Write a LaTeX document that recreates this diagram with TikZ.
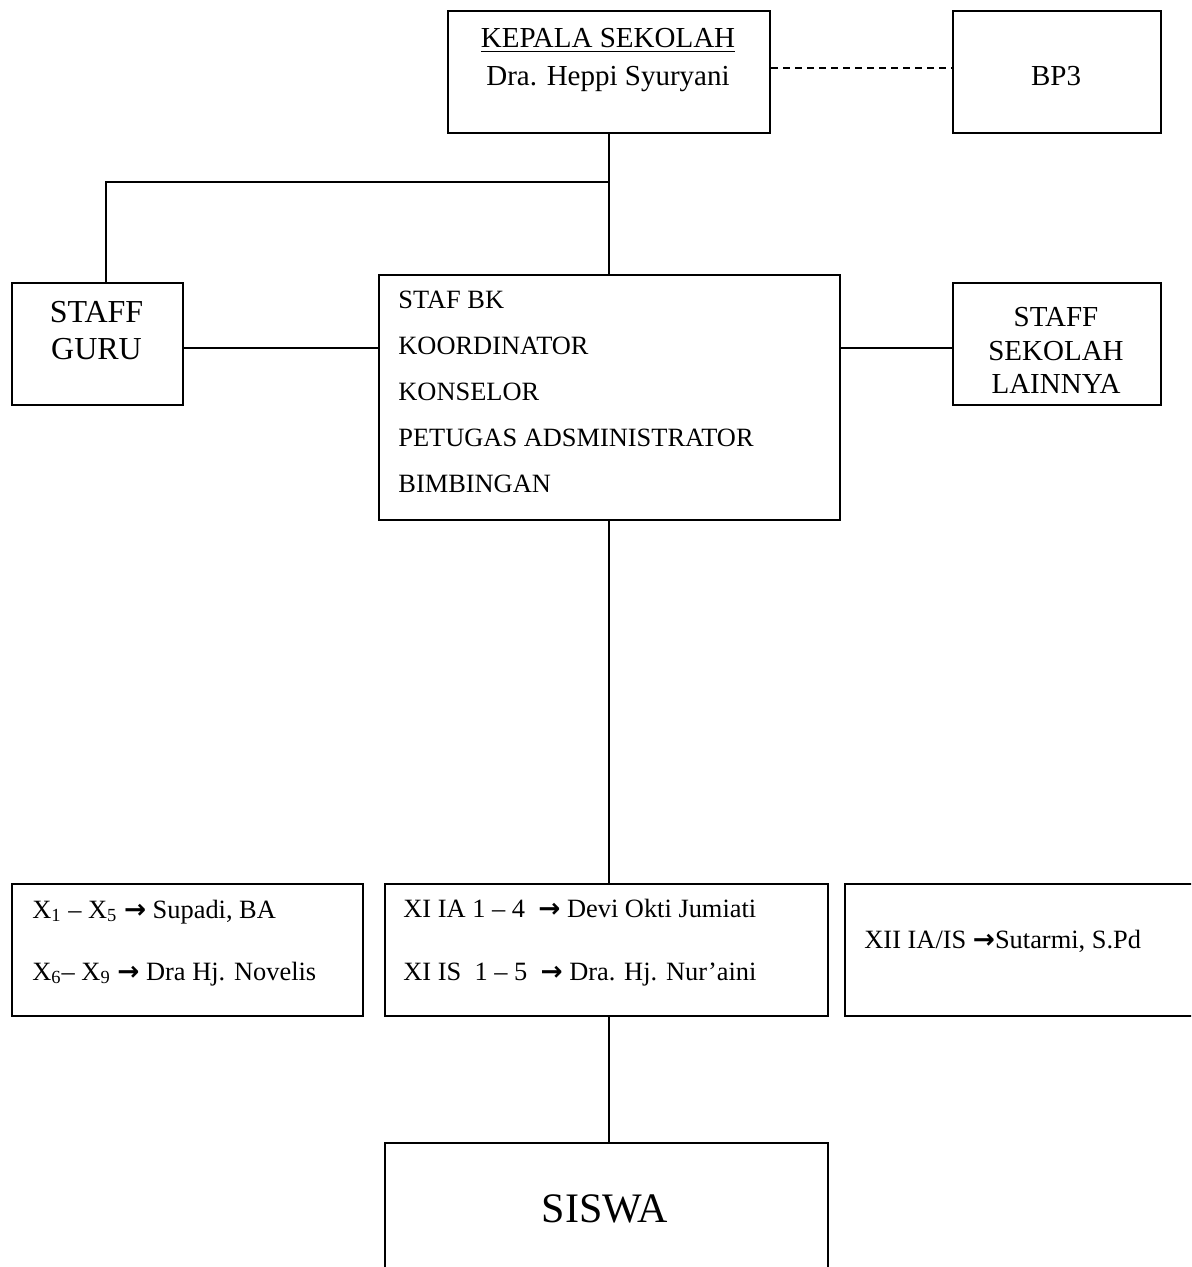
\documentclass[tikz,border=0pt]{standalone}
\usepackage{fontspec}
\setmainfont{Liberation Serif}
\newfontfamily\arrowfont{DejaVu Sans}
\newcommand{\rarr}{{\arrowfont\bfseries →}}
\begin{document}
\begin{tikzpicture}[x=0.5pt,y=-0.5pt,
  box/.style={draw,line width=1pt,rectangle,inner sep=0pt,anchor=north west},
  conn/.style={line width=1pt},
  txt/.style={inner sep=0pt,font=\fontsize{13.2}{16}\selectfont},
  midtxt/.style={inner sep=0pt,font=\fontsize{14.5}{17}\selectfont},
  bigtxt/.style={inner sep=0pt,font=\fontsize{16}{19}\selectfont},
  hugetxt/.style={inner sep=0pt,font=\fontsize{21}{25}\selectfont}]
\useasboundingbox (0,0) rectangle (1191,1267);
\fill[white] (0,0) rectangle (1191,1267);
\clip (0,0) rectangle (1191,1267);

% boxes
\node[box,minimum width=161pt,minimum height=61pt] (kepala) at (447,10) {};
\node[box,minimum width=104pt,minimum height=61pt] (bp3) at (952,10) {};
\node[box,minimum width=85.5pt,minimum height=61pt] (guru) at (11,282) {};
\node[box,minimum width=230.5pt,minimum height=122.5pt] (bk) at (377.5,274) {};
\node[box,minimum width=104pt,minimum height=61pt] (lain) at (952,282) {};
\node[box,minimum width=175.5pt,minimum height=66pt] (xa) at (11,883) {};
\node[box,minimum width=221.5pt,minimum height=66pt] (xb) at (384,883) {};
\node[box,minimum width=178pt,minimum height=66pt] (xc) at (844,883) {};
\node[box,minimum width=221.5pt,minimum height=90pt] (siswa) at (384,1142) {};

% texts
\node[midtxt,anchor=base] (t1) at (608,48) {\underline{KEPALA SEKOLAH}};
\node[midtxt,anchor=base] (t2) at (608,86) {Dra. Heppi Syuryani};
\node[midtxt,anchor=base] (t3) at (1056,86) {BP3};
\node[bigtxt,anchor=base] (g1) at (96.5,322) {STAFF};
\node[bigtxt,anchor=base] (g2) at (96.5,359) {GURU};
\node[midtxt,anchor=base] (l1) at (1056,327) {STAFF};
\node[midtxt,anchor=base] (l2) at (1056,360) {SEKOLAH};
\node[midtxt,anchor=base] (l3) at (1056,393) {LAINNYA};
\node[txt,anchor=base west] (b1) at (398,308) {STAF BK};
\node[txt,anchor=base west] (b2) at (398,354) {KOORDINATOR};
\node[txt,anchor=base west] (b3) at (398,400) {KONSELOR};
\node[txt,anchor=base west] (b4) at (398,446) {PETUGAS ADSMINISTRATOR};
\node[txt,anchor=base west] (b5) at (398,492) {BIMBINGAN};
\node[txt,anchor=base west] (a1) at (32,918) {X\textsubscript{1} – X\textsubscript{5} \rarr{} Supadi, BA};
\node[txt,anchor=base west] (a2) at (32,980) {X\textsubscript{6}– X\textsubscript{9} \rarr{} Dra Hj. Novelis};
\node[txt,anchor=base west] (c1) at (403,917) {XI IA 1 – 4 \ \rarr{} Devi Okti Jumiati};
\node[txt,anchor=base west] (c2) at (403,980) {XI IS \ 1 – 5 \ \rarr{} Dra. Hj. Nur’aini};
\node[txt,anchor=base west] (d1) at (864,948) {XII IA/IS \rarr{}Sutarmi, S.Pd};
\node[hugetxt,anchor=base] (s1) at (605,1222) {SISWA};

% connectors
\coordinate (j) at (kepala.south |- 0,182);
\draw[conn] (kepala.south) -- (kepala.south |- bk.north);
\coordinate (gt) at ([xshift=4.25pt]guru.north);
\draw[conn] (j) -| (gt);
\coordinate (gl) at ([yshift=-2pt]guru.east);
\draw[conn] (gl) -- (gl -| bk.west);
\coordinate (ll) at ([yshift=-2pt]lain.west);
\draw[conn] (ll) -- (ll -| bk.east);
\coordinate (kd) at ([yshift=2pt]kepala.east);
\draw[conn,dash pattern=on 3.5pt off 2.5pt] (kd) -- (kd -| bp3.west);
\draw[conn] (bk.south) -- (bk.south |- xb.north);
\draw[conn] (bk.south |- xb.south) -- (bk.south |- siswa.north);
\end{tikzpicture}
\end{document}
